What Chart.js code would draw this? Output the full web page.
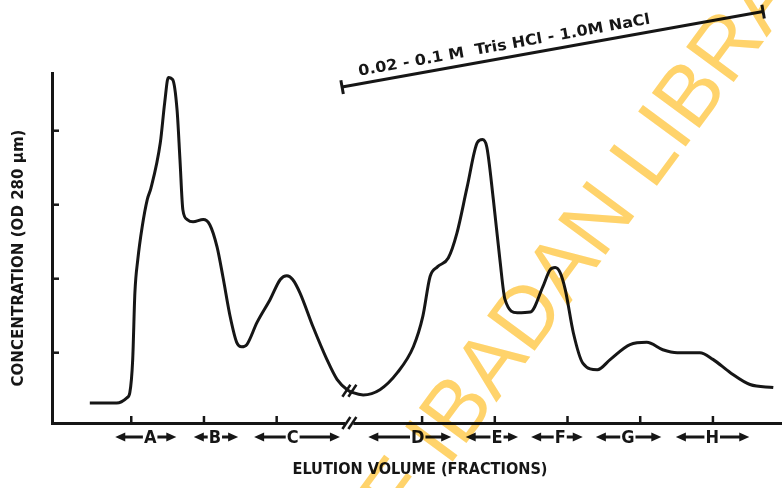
<!DOCTYPE html>
<html>
<head>
<meta charset="utf-8">
<title>Elution profile</title>
<script src="https://cdn.jsdelivr.net/npm/chart.js@4.4.0/dist/chart.umd.min.js"></script>
<style>
  html, body { margin: 0; padding: 0; background: #fff; }
  #wrap { width: 782px; height: 488px; }
</style>
</head>
<body>
<div id="wrap"><canvas id="elutionChart" width="782" height="488"></canvas></div>
<script>
// Trace: elution volume (one tick = one fraction step) vs OD
const elutionVolume = [0.43, 0.80, 0.94, 0.98, 1.02, 1.05, 1.09, 1.15, 1.22, 1.27, 1.40, 1.46, 1.51, 1.57, 1.63,
    1.67, 1.71, 1.77, 1.85, 1.99, 2.08, 2.18, 2.26, 2.36, 2.45, 2.52, 2.59, 2.73, 2.91, 3.05, 3.14, 3.22, 3.32,
    3.50, 3.69, 3.83, 3.97, 4.05, 4.19, 4.42, 4.66, 4.88, 5.01, 5.11, 5.21, 5.36, 5.48, 5.62, 5.76, 5.83, 5.89,
    5.98, 6.07, 6.14, 6.31, 6.49, 6.66, 6.76, 6.83, 6.90, 6.97, 7.08, 7.21, 7.41, 7.59, 7.86, 8.09, 8.31, 8.51,
    8.82, 9.00, 9.24, 9.51, 9.83];
const concentration = [0.32, 0.32, 0.39, 0.46, 0.91, 1.81, 2.26, 2.70, 3.07, 3.22, 3.84, 4.38, 4.72, 4.69, 4.28,
    3.61, 2.93, 2.80, 2.77, 2.80, 2.73, 2.43, 2.03, 1.49, 1.14, 1.08, 1.11, 1.41, 1.72, 1.99, 2.04, 1.99, 1.81,
    1.35, 0.91, 0.64, 0.50, 0.46, 0.43, 0.50, 0.73, 1.08, 1.49, 2.03, 2.16, 2.28, 2.62, 3.24, 3.84, 3.88, 3.78,
    3.07, 2.26, 1.72, 1.54, 1.55, 1.89, 2.12, 2.15, 2.08, 1.85, 1.27, 0.86, 0.77, 0.91, 1.11, 1.14, 1.04, 1.00,
    1.00, 0.91, 0.73, 0.57, 0.53];

const xTicks = [1, 2, 3, 5, 6, 7, 8, 9];
const yTicks = [1, 2, 3, 4];
const axisBreak = 4;

// pooled fractions shown as arrows under the axis
const fractionNames = ['A', 'B', 'C', 'D', 'E', 'F', 'G', 'H'];
const fractionStart = [0.78, 1.86, 2.69, 4.26, 5.60, 6.50, 7.39, 8.49];
const fractionEnd = [1.62, 2.47, 3.87, 5.40, 6.32, 7.21, 8.29, 9.50];
const fractionCentre = [1.26, 2.15, 3.22, 4.94, 6.03, 6.90, 7.83, 8.99];

// salt gradient bar
const gradientVolume = [3.90, 9.69];
const gradientLevel = [4.59, 5.61];
const gradientText = '0.02 - 0.1 M  Tris HCl - 1.0M NaCl';

const ink = '#161616';
const boldFont = "'DejaVu Sans Condensed', 'DejaVu Sans', sans-serif";

// draw a text squeezed/stretched to a given width
function fitText(ctx, text, cx, cy, angle, width, font) {
    ctx.save();
    ctx.font = font;
    ctx.translate(cx, cy);
    ctx.rotate(angle);
    const w = ctx.measureText(text).width;
    ctx.scale(width / w, 1);
    ctx.textAlign = 'center';
    ctx.textBaseline = 'middle';
    ctx.fillText(text, 0, 0);
    ctx.restore();
}

function segment(ctx, x1, y1, x2, y2) {
    ctx.beginPath();
    ctx.moveTo(x1, y1);
    ctx.lineTo(x2, y2);
    ctx.stroke();
}

function arrowHead(ctx, tipX, y, dir) {
    ctx.beginPath();
    ctx.moveTo(tipX, y);
    ctx.lineTo(tipX - dir * 10, y - 4.5);
    ctx.lineTo(tipX - dir * 10, y + 4.5);
    ctx.closePath();
    ctx.fill();
}

// OD value on the trace at a given volume
function traceAt(v) {
    for (let i = 1; i < elutionVolume.length; i++) {
        if (elutionVolume[i] >= v) {
            const t = (v - elutionVolume[i - 1]) / (elutionVolume[i] - elutionVolume[i - 1]);
            return concentration[i - 1] + t * (concentration[i] - concentration[i - 1]);
        }
    }
    return concentration[concentration.length - 1];
}

function slashes(ctx, px, py) {
    ctx.lineWidth = 2.5;
    for (let i = -1; i <= 1; i += 2) {
        segment(ctx, px + i * 3 - 4, py + 6, px + i * 3 + 4, py - 6);
    }
}

const decorations = {
    id: 'decorations',
    afterDatasetsDraw(chart) {
        const { ctx, chartArea, scales: { x, y } } = chart;
        ctx.save();
        ctx.strokeStyle = ink;
        ctx.fillStyle = ink;
        ctx.lineCap = 'butt';

        // tick marks point into the plot
        ctx.lineWidth = 2.5;
        xTicks.forEach(v => {
            const px = x.getPixelForValue(v);
            segment(ctx, px, chartArea.bottom, px, chartArea.bottom - 7);
        });
        yTicks.forEach(v => {
            const py = y.getPixelForValue(v);
            segment(ctx, chartArea.left, py, chartArea.left + 7, py);
        });

        // axis break on the axis and on the trace
        const bx = x.getPixelForValue(axisBreak);
        ctx.fillStyle = '#fff';
        ctx.fillRect(bx - 4, chartArea.bottom - 3, 8, 6);
        ctx.fillStyle = ink;
        slashes(ctx, bx, chartArea.bottom);
        slashes(ctx, bx, y.getPixelForValue(traceAt(axisBreak)));

        // fraction arrows
        const rowY = chartArea.bottom + 14;
        ctx.font = 'bold 18px ' + boldFont;
        ctx.textAlign = 'center';
        ctx.textBaseline = 'middle';
        ctx.lineWidth = 3;
        fractionNames.forEach((name, i) => {
            const x1 = x.getPixelForValue(fractionStart[i]);
            const x2 = x.getPixelForValue(fractionEnd[i]);
            const xc = x.getPixelForValue(fractionCentre[i]);
            const half = ctx.measureText(name).width / 2 + 1;
            segment(ctx, x1 + 6, rowY, xc - half, rowY);
            segment(ctx, xc + half, rowY, x2 - 6, rowY);
            arrowHead(ctx, x1, rowY, -1);
            arrowHead(ctx, x2, rowY, 1);
            ctx.fillText(name, xc, rowY + 1);
        });

        // gradient bar end caps and label
        const bar = chart.getDatasetMeta(1).data;
        const ang = Math.atan2(bar[1].y - bar[0].y, bar[1].x - bar[0].x);
        const nx = -Math.sin(ang), ny = Math.cos(ang);
        ctx.lineWidth = 3;
        bar.forEach(p => segment(ctx, p.x - nx * 7, p.y - ny * 7, p.x + nx * 7, p.y + ny * 7));
        const t = 0.39;
        const mx = bar[0].x + t * (bar[1].x - bar[0].x) - 12 * nx;
        const my = bar[0].y + t * (bar[1].y - bar[0].y) - 12 * ny;
        fitText(ctx, gradientText, mx, my, ang, 296, 'bold 15px ' + boldFont);

        // axis titles
        fitText(ctx, 'ELUTION VOLUME (FRACTIONS)', 420, 470, 0, 255, 'bold 15px ' + boldFont);
        fitText(ctx, 'CONCENTRATION (OD 280 \u03bcm)', 19, 258, -Math.PI / 2, 257, 'bold 15px ' + boldFont);
        ctx.restore();
    },
    afterDraw(chart) {
        // library stamp across the scan
        const ctx = chart.ctx;
        ctx.save();
        ctx.globalCompositeOperation = 'multiply';
        ctx.fillStyle = '#FFD36B';
        ctx.font = "86px 'Liberation Sans', Arial, sans-serif";
        ctx.translate(448, 468);
        ctx.rotate(-53.5 * Math.PI / 180);
        ctx.textBaseline = 'alphabetic';
        ctx.textAlign = 'right';
        ctx.fillText('UNIVERSITY OF ', 0, 0);
        ctx.textAlign = 'left';
        ctx.fillText('IBADAN LIBRARY', 0, 0);
        ctx.restore();
    }
};

new Chart(document.getElementById('elutionChart').getContext('2d'), {
    type: 'line',
    data: {
        datasets: [{
            data: elutionVolume.map((v, i) => ({ x: v, y: concentration[i] })),
            borderColor: ink,
            borderWidth: 3,
            pointRadius: 0,
            cubicInterpolationMode: 'monotone',
            fill: false
        }, {
            data: gradientVolume.map((v, i) => ({ x: v, y: gradientLevel[i] })),
            borderColor: ink,
            borderWidth: 3,
            pointRadius: 0,
            clip: false
        }]
    },
    options: {
        responsive: false,
        animation: false,
        devicePixelRatio: 1,
        layout: { autoPadding: false, padding: { left: 52, top: 73, right: 0, bottom: 65 } },
        plugins: { legend: { display: false }, tooltip: { enabled: false } },
        scales: {
            x: {
                type: 'linear',
                min: -0.09,
                max: 9.95,
                ticks: { display: false },
                grid: { display: false, drawTicks: false },
                border: { display: true, color: ink, width: 3 }
            },
            y: {
                min: 0.05,
                max: 4.78,
                ticks: { display: false },
                grid: { display: false, drawTicks: false },
                border: { display: true, color: ink, width: 3 }
            }
        }
    },
    plugins: [decorations]
});
</script>
</body>
</html>
